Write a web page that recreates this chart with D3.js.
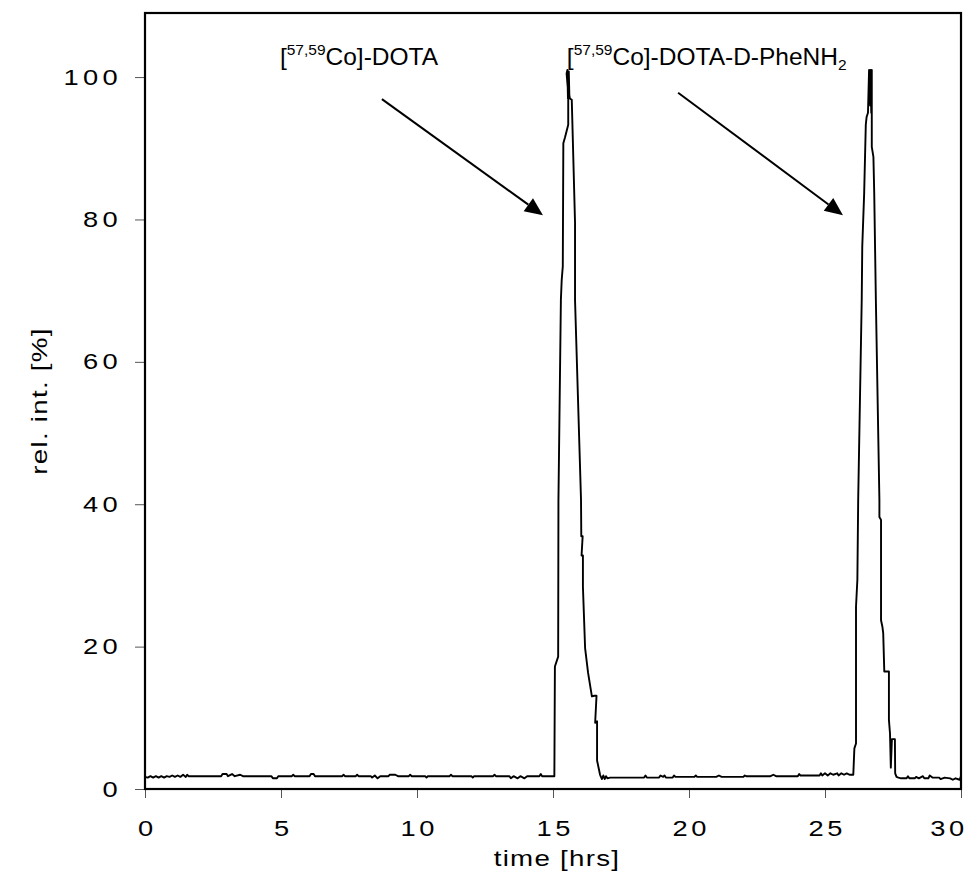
<!DOCTYPE html>
<html><head>
<meta charset="utf-8">
<title>rel. int. vs time</title>
<script src="https://d3js.org/d3.v7.min.js"></script>
<style>
  body { margin: 0; background: #fff; }
  svg text { font-family: Arial, "Liberation Sans", sans-serif; fill: #000; }
  .axis .domain { display: none; }
  .axis line { stroke: #555; stroke-width: 1; }
  .trace { fill: none; stroke: #000; stroke-width: 1.9; stroke-linejoin: round; }
</style>
</head>
<body>
<svg id="chart" width="979" height="875"></svg>
<script>
// [time (hrs), rel. int. (%)]
const baseline1 = [[0,1.7],[0.1,1.6],[0.2,1.8],[0.3,1.6],[0.4,1.8],[0.5,1.6],[0.6,1.8],[0.7,1.6],[0.8,1.8],[0.9,1.7],
  [1.0,1.9],[1.1,1.7],[1.2,1.9],[1.3,1.7],[1.4,2.0],[1.5,1.7],[1.55,2.0],[1.6,1.8],[2.8,1.8],[2.85,2.1],[3.0,2.1],
  [3.05,1.8],[3.2,2.1],[3.3,1.8],[3.5,2.0],[3.6,1.8],[4.65,1.8],[4.7,1.5],[4.85,1.5],[4.9,1.8],[5.4,1.8],[5.45,2.0],
  [5.5,1.8],[6.05,1.8],[6.1,2.1],[6.2,2.1],[6.25,1.8],[7.25,1.8],[7.3,2.0],[7.35,1.8],[7.75,1.8],[7.8,2.0],[7.85,1.8],
  [8.3,1.8],[8.35,1.6],[8.45,1.9],[8.55,1.5],[8.65,1.8],[8.95,1.8],[9.0,2.0],[9.2,2.0],[9.3,1.8],[9.7,1.8],[9.75,2.0],
  [9.8,1.8],[10.3,1.8],[10.35,1.6],[10.4,1.8],[11.2,1.8],[11.25,2.0],[11.3,1.8],[12.0,1.8],[12.05,1.6],[12.1,1.8],
  [12.8,1.8],[12.85,2.0],[12.9,1.8],[13.4,1.8],[13.45,1.5],[13.55,1.8],[13.7,1.5],[13.8,1.8],[13.95,1.5],[14.05,1.8],
  [14.5,1.8],[14.55,2.1],[14.6,1.8],[15.05,1.8]];

const peak1 = [[15.07,17.2],[15.19,18.6],[15.2,40.6],[15.29,68.7],[15.32,71.5],[15.36,73.4],[15.38,90.7],[15.44,91.5],
  [15.56,93.3],[15.56,97.7],[15.5,100.5],[15.53,101],[15.55,97],[15.58,100.8],[15.6,97.5],[15.62,97],[15.69,96.8],
  [15.81,79.5],[15.81,68.7],[16.03,40.6],[16.04,35.5],[16.09,35.5],[16.05,32.8],[16.1,32.8],[16.1,28.4],[16.18,19.8],
  [16.29,16.3],[16.43,13.0],[16.52,13.1],[16.6,13.1],[16.55,9.3],[16.62,9.5],[16.62,4.0],[16.73,2.0]];

const baseline2 = [[16.75,1.8],[16.8,1.4],[16.85,1.9],[16.9,1.4],[16.95,1.8],[17.0,1.5],[17.1,1.6],[18.35,1.6],[18.4,1.9],
  [18.45,1.6],[18.9,1.6],[18.95,1.9],[19.05,1.7],[19.1,1.9],[19.15,1.6],[19.4,1.6],[19.45,1.9],[19.5,1.7],[20.2,1.7],
  [20.25,1.9],[20.3,1.7],[21.0,1.7],[21.1,1.9],[21.2,1.7],[22.0,1.7],[22.05,1.9],[22.1,1.8],[23.0,1.8],[23.1,2.0],
  [23.2,1.8],[24.0,1.8],[24.05,2.1],[24.1,1.9],[24.8,1.9],[24.85,2.2],[24.9,1.9],[25.0,2.2],[25.1,1.9],[25.2,2.2],
  [25.3,2.0],[25.45,2.2],[25.5,1.9],[25.6,2.2],[25.7,2.0],[25.8,2.2],[25.9,2.0],[26.02,2.0]];

const peak2 = [[26.04,2.0],[26.08,5.7],[26.14,6.4],[26.14,25.6],[26.19,29.4],[26.22,40.6],[26.35,68.7],[26.37,76.2],
  [26.44,83.7],[26.5,93.3],[26.53,94.4],[26.58,95],[26.62,101],[26.66,96],[26.68,101],[26.7,95],[26.72,101],[26.72,90.2],
  [26.78,88.8],[26.81,83.7],[26.87,68.7],[27.0,40.6],[27.0,38.2],[27.06,37.8],[27.06,23.7],[27.11,22.8],[27.14,21.9],
  [27.18,16.5],[27.35,16.5],[27.35,9.7],[27.39,7.8],[27.42,3.0],[27.46,7.0],[27.57,7.0],[27.58,2.2],[27.63,1.7]];

const baseline3 = [[27.7,1.6],[27.8,1.5],[28.0,1.5],[28.05,1.8],[28.1,1.5],[28.3,1.5],[28.35,1.7],[28.45,1.5],[28.6,1.8],
  [28.65,1.5],[28.8,1.5],[28.85,1.9],[28.95,1.6],[29.2,1.6],[29.25,1.4],[29.4,1.6],[29.6,1.5],[29.7,1.3],[29.8,1.5],
  [29.95,1.3],[30,1.8]];

const xTicks = [0, 5, 10, 15, 20, 25, 30];
const yTicks = [0, 20, 40, 60, 80, 100];

// annotations: label start, arrow start and arrow tip, in data units
const labels = [
  { pre: "[", sup: "57,59", main: "Co]-DOTA", sub: "", t: 4.96, v: 101.7 },
  { pre: "[", sup: "57,59", main: "Co]-DOTA-D-PheNH", sub: "2", t: 15.51, v: 101.7 }
];
const arrows = [
  { t0: 8.71, v0: 96.9, t1: 14.63, v1: 80.6 },
  { t0: 19.6, v0: 97.8, t1: 25.66, v1: 80.6 }
];

let svg = d3.select("svg#chart");
let margin = { top: 13, right: 18, bottom: 86, left: 145 };
let width = +svg.attr("width");
let height = +svg.attr("height");

const xScale = d3.scaleLinear().domain([0, 30]).range([margin.left, width - margin.right]);
const yScale = d3.scaleLinear().domain([0, 109]).range([height - margin.bottom, margin.top]);

svg.append("rect").attr("width", width).attr("height", height).attr("fill", "#fff");

// axes (ticks and labels only; frame drawn below)
// the original text is drawn a bit wide, so stretch it horizontally
let bottomAxis = d3.axisBottom(xScale).tickValues(xTicks).tickSizeInner(9).tickSizeOuter(0).tickPadding(22);
let gx = svg.append("g").attr("class", "x axis")
  .attr("transform", "translate(0," + (height - margin.bottom) + ")")
  .call(bottomAxis);
gx.selectAll("text").attr("font-size", 22).attr("letter-spacing", 3)
  .attr("x", d => d === 30 ? -10 : 1.5).attr("transform", "scale(1.24,1)");

let leftAxis = d3.axisLeft(yScale).tickValues(yTicks).tickSizeInner(10).tickSizeOuter(0).tickPadding(0);
let gy = svg.append("g").attr("class", "y axis")
  .attr("transform", "translate(" + margin.left + ",0)")
  .call(leftAxis);
gy.selectAll("text").attr("font-size", 22).attr("letter-spacing", 3.5)
  .attr("x", -18.5).attr("transform", "scale(1.24,1)");

// the trace
const series = baseline1.concat(peak1, baseline2, peak2, baseline3);
let line = d3.line().x(d => xScale(d[0])).y(d => yScale(d[1]));
svg.append("path").attr("class", "trace").attr("d", line(series));

// frame
svg.append("rect")
  .attr("x", xScale(0)).attr("y", yScale(109))
  .attr("width", xScale(30) - xScale(0)).attr("height", yScale(0) - yScale(109))
  .attr("fill", "none").attr("stroke", "#000").attr("stroke-width", 2.2);

// arrows
arrows.forEach(a => {
  let x0 = xScale(a.t0), y0 = yScale(a.v0), x1 = xScale(a.t1), y1 = yScale(a.v1);
  let ang = Math.atan2(y1 - y0, x1 - x0);
  let len = 18, half = 8;
  let bx = x1 - len * Math.cos(ang), by = y1 - len * Math.sin(ang);
  svg.append("line").attr("x1", x0).attr("y1", y0).attr("x2", bx).attr("y2", by)
    .attr("stroke", "#000").attr("stroke-width", 2);
  let pts = [[x1, y1],
    [bx + half * Math.sin(ang), by - half * Math.cos(ang)],
    [bx - half * Math.sin(ang), by + half * Math.cos(ang)]];
  svg.append("polygon").attr("points", pts.map(p => p.join(",")).join(" ")).attr("fill", "#000");
});

// labels
labels.forEach(l => {
  let t = svg.append("text").attr("x", xScale(l.t)).attr("y", yScale(l.v)).attr("font-size", 24.5);
  t.append("tspan").text(l.pre);
  t.append("tspan").attr("font-size", 15.5).attr("dy", -10).text(l.sup);
  t.append("tspan").attr("dy", 10).text(l.main);
  if (l.sub) t.append("tspan").attr("font-size", 15.5).attr("dy", 5).text(l.sub);
});

// axis titles
svg.append("text").attr("text-anchor", "middle").attr("font-size", 22).attr("letter-spacing", 1)
  .attr("transform", "translate(" + ((margin.left + width - margin.right) / 2 + 4) + ",866) scale(1.26,1)")
  .text("time [hrs]");
svg.append("text").attr("text-anchor", "middle").attr("font-size", 22).attr("letter-spacing", 1)
  .attr("transform", "translate(47," + ((margin.top + height - margin.bottom) / 2) + ") rotate(-90) scale(1.26,1)")
  .text("rel. int. [%]");
</script>
</body>
</html>
